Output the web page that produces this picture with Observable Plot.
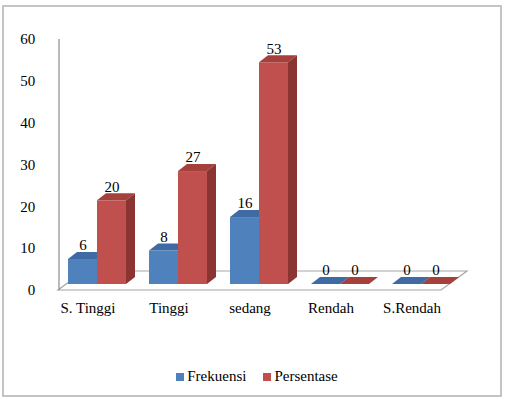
<!DOCTYPE html>
<html><head><meta charset="utf-8">
<script src="https://cdn.jsdelivr.net/npm/d3@7"></script>
<script src="https://cdn.jsdelivr.net/npm/@observablehq/plot@0.6"></script>
<style>
html,body{margin:0;padding:0;background:#fff;}
#wrap{position:relative;width:506px;height:401px;overflow:hidden;font-family:"Times New Roman","Liberation Serif","DejaVu Serif",serif;}
#border{position:absolute;left:2px;top:5px;width:500px;height:392px;border:2px solid #c4c4c4;box-sizing:border-box;pointer-events:none;}
#chart{position:absolute;left:0;top:0;}
#legend{position:absolute;left:4px;top:360px;width:506px;display:flex;justify-content:center;}
#legend *{font-family:"Times New Roman","Liberation Serif","DejaVu Serif",serif !important;font-size:15px !important;color:#000 !important;}
#legend span{margin-right:0 !important;}
#legend span + span{margin-left:17px !important;}
#legend span > svg{margin-right:3px !important;}
#chart svg, #chart svg text{font-family:"Times New Roman","Liberation Serif","DejaVu Serif",serif !important;}
</style></head>
<body>
<div id="wrap"><div id="chart"></div><div id="legend"></div><div id="border"></div></div>
<script>
// ---- data ----
const categories = ["S. Tinggi", "Tinggi", "sedang", "Rendah", "S.Rendah"];
const series = ["Frekuensi", "Persentase"];
const frekuensi = [6, 8, 16, 0, 0];
const persentase = [20, 27, 53, 0, 0];
const yTicks = [0, 10, 20, 30, 40, 50, 60];

// ---- styles ----
const frontColors = ["#4F81BD", "#C0504D"];
const topColors = ["#3E6BA3", "#A5403D"];
const sideColors = ["#365E8E", "#8B3432"];
const DX = 9, DY = -7;      // bar depth
const SX = 9, SY = -6;      // bar placement inside floor depth
const FLOOR_DX = 26, FLOOR_DY = -19;
const FX_PAD_IN = 0.275, FX_PAD_OUT = 0.1375;
const MARGIN_L = 46, MARGIN_R = 53, WIDTH = 506;
const font = "Times New Roman, Liberation Serif, DejaVu Serif, serif";

// the y axis is anchored on the first facet, which starts after the outer padding
const step = (WIDTH - MARGIN_L - MARGIN_R) / (categories.length - FX_PAD_IN + 2 * FX_PAD_OUT);
const yTickPadding = 12 + step * FX_PAD_OUT;

const rows = categories.flatMap((c, i) => [
  {category: c, series: series[0], value: frekuensi[i]},
  {category: c, series: series[1], value: persentase[i]}
]);

function render3d(index, scales, values) {
  const g = d3.create("svg:g");
  const bw = scales.x.bandwidth();
  for (const i of index) {
    const s = series.indexOf(rows[i].series);
    const x0 = values.x[i] + SX, x1 = x0 + bw;
    const yt = Math.min(values.y1[i], values.y2[i]) + SY;
    const yb = Math.max(values.y1[i], values.y2[i]) + SY;
    g.append("rect").attr("x", x0).attr("y", yt).attr("width", bw).attr("height", yb - yt).attr("fill", frontColors[s]);
    g.append("path").attr("d", `M${x0},${yt}L${x0 + DX},${yt + DY}L${x1 + DX},${yt + DY}L${x1},${yt}Z`).attr("fill", topColors[s]);
    g.append("path").attr("d", `M${x1},${yt}L${x1 + DX},${yt + DY}L${x1 + DX},${yb + DY}L${x1},${yb}Z`).attr("fill", sideColors[s]);
  }
  return g.node();
}

function renderFloor(index, scales, values, dims) {
  const g = d3.create("svg:g");
  const L = dims.marginLeft, R = dims.width - dims.marginRight;
  const y0 = scales.y(0), yTop = scales.y(yTicks[yTicks.length - 1]);
  g.append("path")
    .attr("d", `M${L},${y0}L${R},${y0}L${R + FLOOR_DX},${y0 + FLOOR_DY}L${L + FLOOR_DX},${y0 + FLOOR_DY}Z`)
    .attr("fill", "none").attr("stroke", "#a6a6a6").attr("stroke-width", 1.2);
  g.append("line").attr("x1", L + 1).attr("x2", L + 1).attr("y1", yTop).attr("y2", y0)
    .attr("stroke", "#8c8c8c").attr("stroke-width", 1.2);
  return g.node();
}

const chart = Plot.plot({
  width: WIDTH,
  height: 340,
  marginTop: 39,
  marginBottom: 50,
  marginLeft: MARGIN_L,
  marginRight: MARGIN_R,
  style: "font-family: 'Times New Roman', 'Liberation Serif', 'DejaVu Serif', serif; font-size: 15px; color: #000; background: transparent;",
  fx: {domain: categories, paddingInner: FX_PAD_IN, paddingOuter: FX_PAD_OUT, label: null},
  x: {domain: series, padding: 0, axis: null},
  y: {domain: [0, 60], label: null},
  color: {domain: series, range: frontColors},
  marks: [
    Plot.frame({facet: "super", stroke: "none", render: renderFloor}),
    Plot.axisY(yTicks, {tickSize: 0, tickPadding: yTickPadding, label: null, fontSize: 15, fontFamily: font}),
    Plot.axisFx({anchor: "bottom", tickSize: 0, tickPadding: 12, label: null, fontSize: 15, fontFamily: font}),
    Plot.barY(rows, {fx: "category", x: "series", y: "value", fill: "series", render: render3d}),
    Plot.text(rows, {fx: "category", x: "series", y: "value", text: d => String(d.value), dx: SX, dy: SY - 14, fontSize: 15, fontFamily: font, fill: "#000"})
  ]
});
document.getElementById("chart").appendChild(chart);

const legend = Plot.legend({
  color: {domain: series, range: frontColors},
  legend: "swatches",
  swatchSize: 8
});
document.getElementById("legend").appendChild(legend);
</script>
</body></html>
